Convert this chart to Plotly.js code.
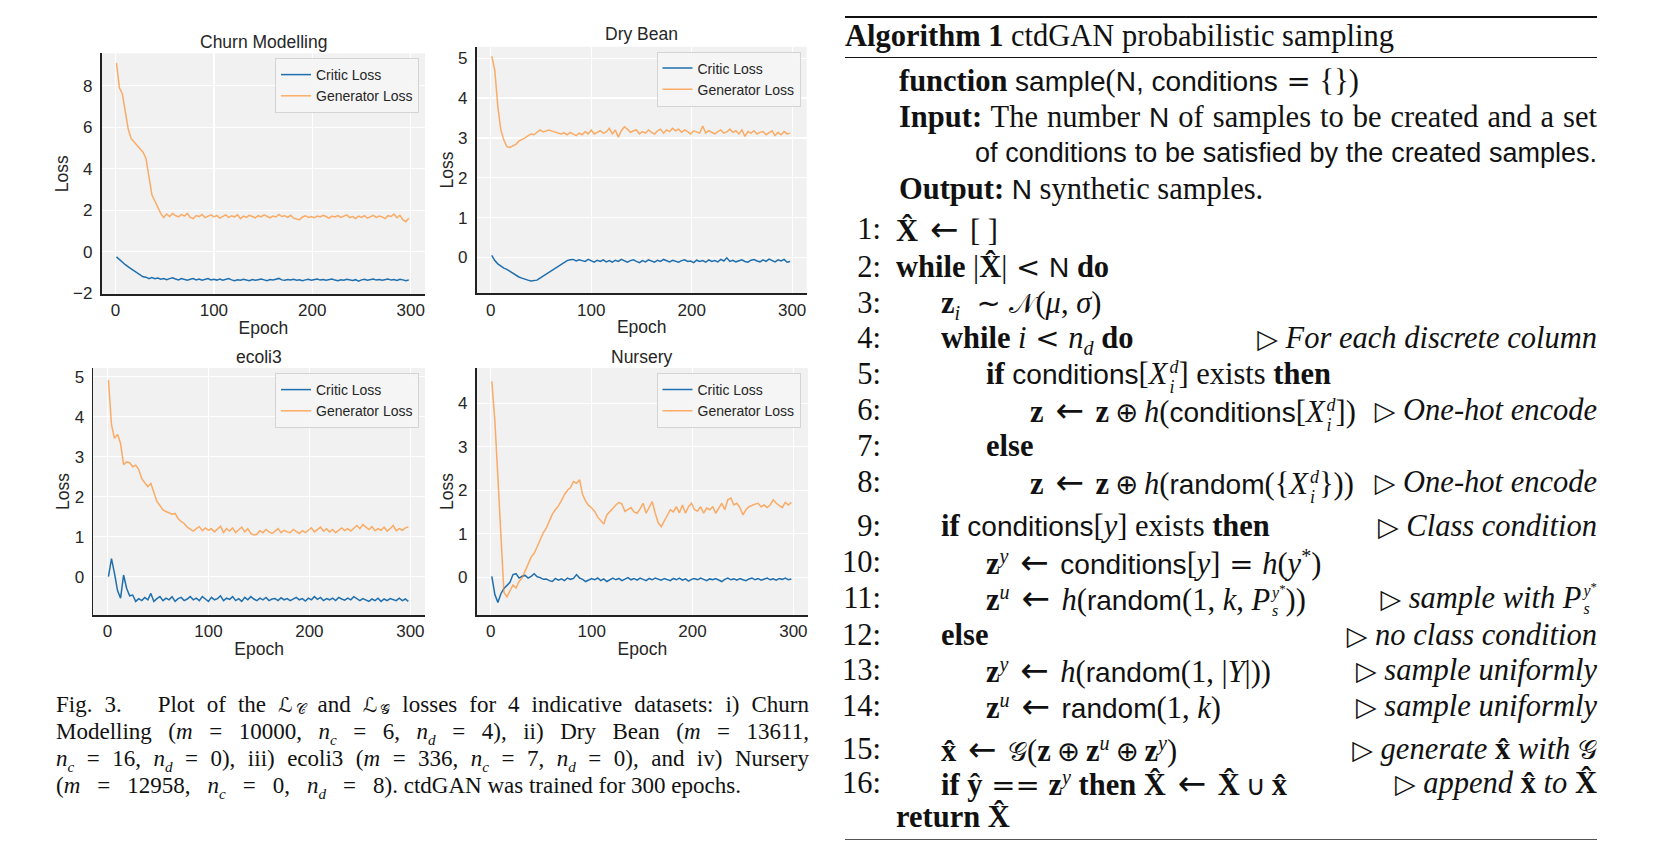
<!DOCTYPE html>
<html>
<head>
<meta charset="utf-8">
<script src="https://cdn.plot.ly/plotly-3.0.1.min.js"></script>
<style>
  html, body { margin: 0; padding: 0; background: #ffffff; }
  body { width: 1653px; height: 868px; overflow: hidden; position: relative; }
  #chart { position: absolute; left: 0; top: 0; width: 1653px; height: 868px; }
  .cap { position: absolute; left: 56px; width: 753px; height: 26px; font-family: 'Liberation Serif', 'Times New Roman', serif;
         font-size: 23px; line-height: 26px; color: #111; white-space: nowrap; text-align: justify; text-align-last: justify; }
  .cap.last { text-align: left; text-align-last: left; }
  .mj { display: inline-block; text-align: justify; text-align-last: justify; white-space: nowrap; }
  .al { position: absolute; white-space: nowrap; font-family: 'Liberation Serif', 'Times New Roman', serif;
        font-size: 30.5px; line-height: 34px; height: 34px; color: #111; }
  .num { left: 820px; width: 61px; text-align: right; }
  .cm { right: 56px; text-align: right; }
  .just { text-align: justify; text-align-last: justify; }
  .sf { font-family: 'Liberation Sans', Arial, sans-serif; font-size: 0.92em; }
  .ms { font-family: 'DejaVu Sans', 'DejaVu Serif', sans-serif; font-size: 0.88em; }
  .op { font-family: 'DejaVu Sans', sans-serif; font-size: 0.95em; margin: 0 0.3em; }
  .arr { font-family: 'DejaVu Sans', sans-serif; font-size: 1.12em; margin: 0 0.34em; }
  .bop { font-family: 'DejaVu Sans', sans-serif; font-size: 0.9em; margin: 0 0.22em; }
  sub, sup { font-size: 0.66em; line-height: 0; }
  sub.ms { margin-left: 3px; font-size: 0.6em; vertical-align: -0.12em; }
  .ss { display: inline-block; vertical-align: -9px; font-size: 18px; line-height: 20px; text-align: left; margin-left: 2px; }
  .ss > span { display: block; height: 20px; }
  .ss.sm { vertical-align: -6px; font-size: 16px; line-height: 18px; }
  .ss.sm > span { height: 18px; }
  .st { position: relative; top: -0.4em; font-size: 0.8em; }
  .rule { position: absolute; left: 845px; width: 752px; background: #111; }
</style>
</head>
<body>
<div id="chart"></div>

<!-- Figure caption -->
<div class="cap" style="top:692px">Fig. 3.&nbsp;&nbsp; Plot of the <span class="ms">ℒ</span><sub class="ms">𝒞</sub> and <span class="ms">ℒ</span><sub class="ms">𝒢</sub> losses for 4 indicative datasets: i) Churn</div>
<div class="cap" style="top:718.5px">Modelling (<i>m</i> = 10000, <i>n<sub>c</sub></i> = 6, <i>n<sub>d</sub></i> = 4), ii) Dry Bean (<i>m</i> = 13611,</div>
<div class="cap" style="top:746px"><i>n<sub>c</sub></i> = 16, <i>n<sub>d</sub></i> = 0), iii) ecoli3 (<i>m</i> = 336, <i>n<sub>c</sub></i> = 7, <i>n<sub>d</sub></i> = 0), and iv) Nursery</div>
<div class="cap last" style="top:772.5px"><span class="mj" style="width:342px">(<i>m</i> = 12958, <i>n<sub>c</sub></i> = 0, <i>n<sub>d</sub></i> = 8).</span> ctdGAN was trained for 300 epochs.</div>

<!-- Algorithm box -->
<div class="rule" style="top:16px;height:2px"></div>
<div class="al" style="left:845px;top:19px"><b>Algorithm 1</b> ctdGAN probabilistic sampling</div>
<div class="rule" style="top:57px;height:1.3px"></div>
<div class="al" style="left:899px;top:64px"><b>function</b> <span class="sf">sample</span>(<span class="sf">N, conditions</span><span class="op">=</span>{})</div>
<div class="al just" style="left:899px;width:698px;top:100px"><b>Input:</b> The number <span class="sf">N</span> of samples to be created and a set</div>
<div class="al just sf" style="left:975px;width:622px;top:136px;font-size:27px">of conditions to be satisfied by the created samples.</div>
<div class="al" style="left:899px;top:172px"><b>Output:</b> <span class="sf">N</span> synthetic samples.</div>

<div class="al num" style="top:212px">1:</div>
<div class="al" style="left:896px;top:212px"><b>X̂</b><span class="arr">←</span>[ ]</div>
<div class="al num" style="top:250px">2:</div>
<div class="al" style="left:896px;top:250px"><b>while</b> |<b>X̂</b>|<span class="op">&lt;</span><span class="sf">N</span> <b>do</b></div>
<div class="al num" style="top:286px">3:</div>
<div class="al" style="left:941px;top:286px"><b>z</b><sub><i>i</i></sub>&nbsp;<span class="op">∼</span><span class="ms">𝒩</span>(<i>μ</i>, <i>σ</i>)</div>
<div class="al num" style="top:321px">4:</div>
<div class="al" style="left:941px;top:321px"><b>while</b> <i>i</i><span class="op">&lt;</span><i>n<sub>d</sub></i> <b>do</b></div>
<div class="al cm" style="top:321px"><span class="ms">▷</span> <i>For each discrete column</i></div>
<div class="al num" style="top:357px">5:</div>
<div class="al" style="left:986px;top:357px"><b>if</b> <span class="sf">conditions</span>[<i>X</i><span class="ss"><span><i>d</i></span><span><i>i</i></span></span>] exists <b>then</b></div>
<div class="al num" style="top:393px">6:</div>
<div class="al" style="left:1030px;top:393px"><b>z</b><span class="arr">←</span><b>z</b><span class="bop">⊕</span><i>h</i>(<span class="sf">conditions</span>[<i>X</i><span class="ss"><span><i>d</i></span><span><i>i</i></span></span>])</div>
<div class="al cm" style="top:393px"><span class="ms">▷</span> <i>One-hot encode</i></div>
<div class="al num" style="top:429px">7:</div>
<div class="al" style="left:986px;top:429px"><b>else</b></div>
<div class="al num" style="top:465px">8:</div>
<div class="al" style="left:1030px;top:465px"><b>z</b><span class="arr">←</span><b>z</b><span class="bop">⊕</span><i>h</i>(<span class="sf">random</span>({<i>X</i><span class="ss"><span><i>d</i></span><span><i>i</i></span></span>}))</div>
<div class="al cm" style="top:465px"><span class="ms">▷</span> <i>One-hot encode</i></div>
<div class="al num" style="top:509px">9:</div>
<div class="al" style="left:941px;top:509px"><b>if</b> <span class="sf">conditions</span>[<i>y</i>] exists <b>then</b></div>
<div class="al cm" style="top:509px"><span class="ms">▷</span> <i>Class condition</i></div>
<div class="al num" style="top:545px">10:</div>
<div class="al" style="left:986px;top:545px"><b>z</b><sup><i>y</i></sup><span class="arr">←</span><span class="sf">conditions</span>[<i>y</i>]<span class="op">=</span><i>h</i>(<i>y</i><sup>*</sup>)</div>
<div class="al num" style="top:581px">11:</div>
<div class="al" style="left:986px;top:581px"><b>z</b><sup><i>u</i></sup><span class="arr">←</span><i>h</i>(<span class="sf">random</span>(1, <i>k</i>, <i>P</i><span class="ss sm"><span><i>y</i><span class="st">*</span></span><span><i>s</i></span></span>))</div>
<div class="al cm" style="top:581px"><span class="ms">▷</span> <i>sample with P</i><span class="ss sm"><span><i>y</i><span class="st">*</span></span><span><i>s</i></span></span></div>
<div class="al num" style="top:618px">12:</div>
<div class="al" style="left:941px;top:618px"><b>else</b></div>
<div class="al cm" style="top:618px"><span class="ms">▷</span> <i>no class condition</i></div>
<div class="al num" style="top:653px">13:</div>
<div class="al" style="left:986px;top:653px"><b>z</b><sup><i>y</i></sup><span class="arr">←</span><i>h</i>(<span class="sf">random</span>(1, |<i>Y</i>|))</div>
<div class="al cm" style="top:653px"><span class="ms">▷</span> <i>sample uniformly</i></div>
<div class="al num" style="top:689px">14:</div>
<div class="al" style="left:986px;top:689px"><b>z</b><sup><i>u</i></sup><span class="arr">←</span><span class="sf">random</span>(1, <i>k</i>)</div>
<div class="al cm" style="top:689px"><span class="ms">▷</span> <i>sample uniformly</i></div>
<div class="al num" style="top:732px">15:</div>
<div class="al" style="left:941px;top:732px"><b>x̂</b><span class="arr">←</span><span class="ms">𝒢</span>(<b>z</b><span class="bop">⊕</span><b>z</b><sup><i>u</i></sup><span class="bop">⊕</span><b>z</b><sup><i>y</i></sup>)</div>
<div class="al cm" style="top:732px"><span class="ms">▷</span> <i>generate</i> <b>x̂</b> <i>with</i> <span class="ms">𝒢</span></div>
<div class="al num" style="top:766px">16:</div>
<div class="al" style="left:941px;top:766px"><b>if ŷ</b><span class="op">==</span><b>z</b><sup><i>y</i></sup> <b>then X̂</b><span class="arr">←</span><b>X̂</b><span class="bop">∪</span><b>x̂</b></div>
<div class="al cm" style="top:766px"><span class="ms">▷</span> <i>append</i> <b>x̂</b> <i>to</i> <b>X̂</b></div>
<div class="al" style="left:896px;top:800px"><b>return X̂</b></div>
<div class="rule" style="top:838.5px;height:1px;background:#555"></div>

<script>
// ---------------- Data (sampled every 3 epochs: 1, 4, 7, ... 298) ----------------
const churnCritic = [
  -0.24, -0.38, -0.5, -0.62, -0.72, -0.82, -0.93, -1.03, -1.12, -1.2,
  -1.22, -1.29, -1.24, -1.29, -1.26, -1.32, -1.29, -1.34, -1.29, -1.25,
  -1.31, -1.35, -1.29, -1.33, -1.37, -1.32, -1.29, -1.35, -1.31, -1.37,
  -1.33, -1.29, -1.35, -1.32, -1.36, -1.31, -1.37, -1.33, -1.29, -1.35,
  -1.39, -1.34, -1.37, -1.32, -1.35, -1.39, -1.33, -1.37, -1.34, -1.31,
  -1.35, -1.39, -1.33, -1.36, -1.32, -1.28, -1.35, -1.37, -1.33, -1.36,
  -1.32, -1.37, -1.34, -1.39, -1.35, -1.32, -1.37, -1.34, -1.31, -1.36,
  -1.33, -1.37, -1.34, -1.31, -1.36, -1.39, -1.34, -1.37, -1.32, -1.35,
  -1.38, -1.34, -1.41, -1.35, -1.32, -1.37, -1.34, -1.31, -1.36, -1.33,
  -1.37, -1.34, -1.31, -1.36, -1.33, -1.38, -1.32, -1.35, -1.39, -1.36
];
const churnGen = [
  9.1, 7.9, 7.6, 6.8, 5.9, 5.45, 5.3, 5.1, 4.95, 4.8,
  4.5, 3.5, 2.75, 2.45, 2.15, 1.85, 1.65, 1.82, 1.7, 1.85,
  1.75, 1.68, 1.8, 1.72, 1.85, 1.66, 1.6, 1.75, 1.7, 1.8,
  1.65, 1.72, 1.78, 1.68, 1.75, 1.62, 1.7, 1.78, 1.66, 1.74,
  1.68, 1.78, 1.6, 1.72, 1.66, 1.76, 1.7, 1.64, 1.74, 1.68,
  1.78, 1.7, 1.64, 1.72, 1.68, 1.8, 1.7, 1.74, 1.66, 1.76,
  1.62, 1.58, 1.55, 1.68, 1.74, 1.66, 1.7, 1.64, 1.72, 1.68,
  1.76, 1.7, 1.62, 1.72, 1.68, 1.75, 1.66, 1.72, 1.78, 1.65,
  1.7, 1.6, 1.72, 1.66, 1.74, 1.62, 1.7, 1.76, 1.66, 1.72,
  1.68, 1.6, 1.74, 1.7, 1.82, 1.64, 1.76, 1.55, 1.45, 1.62
];
const beanCritic = [
  0.05, -0.08, -0.16, -0.22, -0.27, -0.3, -0.35, -0.4, -0.45, -0.49,
  -0.52, -0.55, -0.57, -0.59, -0.58, -0.57, -0.52, -0.47, -0.42, -0.38,
  -0.33, -0.29, -0.23, -0.17, -0.12, -0.08, -0.06, -0.05, -0.09, -0.06,
  -0.08, -0.1, -0.05, -0.09, -0.12, -0.07, -0.1, -0.06, -0.11, -0.08,
  -0.12, -0.07, -0.1, -0.05, -0.09, -0.12, -0.08, -0.06, -0.1, -0.13,
  -0.08, -0.11, -0.06, -0.09, -0.12, -0.07, -0.1, -0.05, -0.08, -0.11,
  -0.07, -0.1, -0.12, -0.08, -0.06, -0.1, -0.09, -0.13, -0.07, -0.1,
  -0.08, -0.12, -0.06, -0.1, -0.08, -0.11, -0.05, -0.09, -0.01, -0.1,
  -0.07, -0.11, -0.08, -0.06, -0.1, -0.12, -0.07, -0.05, -0.09, -0.11,
  -0.06, -0.1, -0.04, -0.08, -0.11, -0.06, -0.09, -0.05, -0.12, -0.1
];
const beanGen = [
  5.05, 4.7, 3.8, 3.2, 2.95, 2.78, 2.76, 2.8, 2.84, 2.92,
  2.95, 3.0, 3.05, 3.1, 3.08, 3.14, 3.2, 3.15, 3.18, 3.2,
  3.17, 3.15, 3.12, 3.1, 3.13, 3.08, 3.14, 3.1, 3.06, 3.12,
  3.08, 3.16, 3.1, 3.2, 3.1, 3.14, 3.18, 3.12, 3.15, 3.24,
  3.1, 3.2, 3.02, 3.18, 3.28, 3.22, 3.14, 3.18, 3.2, 3.1,
  3.16, 3.12, 3.2, 3.14, 3.1, 3.18, 3.22, 3.12, 3.2, 3.16,
  3.24, 3.18, 3.22, 3.14, 3.2, 3.16, 3.1, 3.18, 3.14, 3.12,
  3.3, 3.12, 3.18, 3.14, 3.1, 3.16, 3.2, 3.12, 3.15, 3.22,
  3.14, 3.18, 3.1, 3.2, 3.04, 3.16, 3.12, 3.18, 3.1, 3.14,
  3.16, 3.08, 3.12, 3.18, 3.06, 3.14, 3.08, 3.16, 3.1, 3.12
];
const ecoliCritic = [
  0.0, 0.45, 0.08, -0.35, -0.54, 0.04, -0.29, -0.48, -0.46, -0.62,
  -0.55, -0.6, -0.52, -0.58, -0.42, -0.62, -0.55, -0.5, -0.6, -0.54,
  -0.58, -0.5, -0.62, -0.55, -0.52, -0.6, -0.56, -0.5, -0.58, -0.54,
  -0.6, -0.5, -0.56, -0.62, -0.52, -0.58, -0.55, -0.48, -0.6, -0.54,
  -0.57, -0.5, -0.6, -0.55, -0.62, -0.52, -0.58, -0.5, -0.56, -0.6,
  -0.54, -0.58, -0.52, -0.6, -0.56, -0.55, -0.6, -0.53, -0.58, -0.55,
  -0.6, -0.56, -0.52, -0.58, -0.55, -0.61, -0.54, -0.58, -0.5, -0.57,
  -0.52, -0.6, -0.55, -0.58, -0.54, -0.6, -0.52, -0.56, -0.59, -0.54,
  -0.58, -0.5, -0.56, -0.6, -0.55, -0.58, -0.62, -0.56, -0.6, -0.54,
  -0.62, -0.56, -0.6, -0.55, -0.58, -0.6, -0.54, -0.6, -0.56, -0.62
];
const ecoliGen = [
  4.92, 3.8, 3.46, 3.56, 3.33, 2.8, 2.87, 2.85, 2.75, 2.79,
  2.68, 2.45, 2.35, 2.25, 2.33, 2.1, 1.88, 1.78, 1.67, 1.63,
  1.6, 1.56, 1.58, 1.45, 1.38, 1.33, 1.24, 1.2, 1.14, 1.2,
  1.25, 1.15, 1.22, 1.16, 1.2, 1.12, 1.18, 1.26, 1.1, 1.2,
  1.14, 1.22, 1.1, 1.17, 1.24, 1.12, 1.2, 1.08, 1.04, 1.06,
  1.15, 1.1, 1.18, 1.12, 1.08, 1.14, 1.2, 1.1, 1.16, 1.12,
  1.1, 1.18, 1.12, 1.08, 1.15, 1.1, 1.16, 1.22, 1.12, 1.18,
  1.24, 1.14, 1.2, 1.12, 1.18, 1.1, 1.16, 1.22, 1.15, 1.2,
  1.14, 1.22, 1.28, 1.2, 1.3, 1.24, 1.18, 1.25, 1.15, 1.2,
  1.16, 1.24, 1.14, 1.2, 1.28, 1.15, 1.2, 1.16, 1.22, 1.24
];
const nurseryCritic = [
  0.02, -0.4, -0.58, -0.38, -0.26, -0.2, -0.12, 0.06, 0.08, -0.02,
  0.02, 0.04, -0.02, 0.02, 0.08, 0.01, -0.01, -0.05, -0.04, -0.08,
  -0.1, -0.03, -0.07, -0.04, -0.08, -0.02, -0.05, -0.03, 0.06, -0.02,
  -0.05, -0.1, -0.07, -0.03, -0.06, -0.02, -0.08, -0.04, -0.1, -0.05,
  -0.02, -0.06, -0.03, -0.08, -0.04, -0.01, -0.06, -0.03, -0.07, -0.02,
  -0.05, -0.08, -0.03, -0.06, -0.02, -0.04, -0.07, -0.03, -0.05, -0.08,
  -0.03, -0.06, -0.02, -0.07, -0.04, -0.09, -0.05, -0.03, -0.06, -0.02,
  -0.05, -0.08, -0.04, -0.06, -0.03, -0.07, -0.1, -0.05, -0.02, -0.06,
  -0.04, -0.07, -0.03, -0.06, -0.08, -0.04, -0.02, -0.06, -0.03, -0.07,
  -0.05, -0.02, -0.06, -0.04, -0.07, -0.03, -0.05, -0.02, -0.06, -0.04
];
const nurseryGen = [
  4.5, 3.6, 2.3, 1.0, -0.35, -0.45, -0.33, -0.18, -0.25, -0.1,
  -0.02, 0.16, 0.3, 0.46, 0.55, 0.7, 0.86, 1.02, 1.13, 1.3,
  1.45, 1.55, 1.64, 1.76, 1.9, 2.0, 2.06, 2.2, 2.16, 2.24,
  1.9, 1.75, 1.65, 1.59, 1.51, 1.38, 1.3, 1.22, 1.43, 1.51,
  1.58, 1.66, 1.72, 1.68, 1.51, 1.56, 1.6, 1.5, 1.47, 1.57,
  1.7, 1.47, 1.62, 1.74, 1.47, 1.25, 1.16, 1.3, 1.43, 1.55,
  1.5, 1.62, 1.48, 1.66, 1.47, 1.62, 1.7, 1.55, 1.52, 1.62,
  1.47, 1.59, 1.55, 1.62, 1.47, 1.6, 1.7, 1.55, 1.78, 1.82,
  1.66, 1.7, 1.6, 1.43, 1.55, 1.62, 1.66, 1.68, 1.7, 1.62,
  1.66, 1.6, 1.66, 1.78, 1.7, 1.64, 1.6, 1.72, 1.66, 1.72
];

const subplotTitles = ['Churn Modelling', 'Dry Bean', 'ecoli3', 'Nursery'];
const seriesNames = ['Critic Loss', 'Generator Loss'];
const criticSeries = [churnCritic, beanCritic, ecoliCritic, nurseryCritic];
const generatorSeries = [churnGen, beanGen, ecoliGen, nurseryGen];
const xTicks = [0, 100, 200, 300];
const yTicks = [[-2, 0, 2, 4, 6, 8], [0, 1, 2, 3, 4, 5], [0, 1, 2, 3, 4, 5], [0, 1, 2, 3, 4]];
const xLabel = 'Epoch';
const yLabel = 'Loss';

// ---------------- Layout geometry (page pixels) ----------------
const W = 1653, H = 868;
const px = v => v / W;
const py = v => 1 - v / H;
const boxes = [
  { x: [101.7, 425], y: [53.3, 294], yr: [-2.03, 9.56], title: [263.4, 42], leg: [419, 58] },
  { x: [476.7, 806.7], y: [46.7, 293.3], yr: [-0.9, 5.29], title: [641.7, 34.5], leg: [800.5, 51.5] },
  { x: [93.3, 425], y: [368, 615], yr: [-0.96, 5.22], title: [259.2, 357], leg: [419, 373] },
  { x: [476.7, 808], y: [368, 615], yr: [-0.87, 4.81], title: [642.3, 356.5], leg: [800.5, 373] }
];
const xRange = [-14, 314.5];

const FONT = 'Liberation Sans, Arial, Helvetica, sans-serif';
const TXT = '#262626';
const BLUE = '#1f6fae';
const ORANGE = 'rgba(255,127,14,0.62)';

const data = [];
const layout = {
  width: W, height: H,
  margin: { l: 0, r: 0, t: 0, b: 0 },
  paper_bgcolor: 'rgba(0,0,0,0)',
  plot_bgcolor: '#f1f1f1',
  font: { family: FONT, color: TXT, size: 15 },
  hovermode: false,
  annotations: []
};

boxes.forEach((b, i) => {
  const s = i === 0 ? '' : String(i + 1);
  data.push({
    x: criticSeries[i].map((_, k) => 1 + 3 * k), y: criticSeries[i], type: 'scatter', mode: 'lines',
    name: seriesNames[0], line: { color: BLUE, width: 1.5 }, xaxis: 'x' + s, yaxis: 'y' + s, legend: 'legend' + s
  });
  data.push({
    x: generatorSeries[i].map((_, k) => 1 + 3 * k), y: generatorSeries[i], type: 'scatter', mode: 'lines',
    name: seriesNames[1], line: { color: ORANGE, width: 1.5 }, xaxis: 'x' + s, yaxis: 'y' + s, legend: 'legend' + s
  });
  layout['xaxis' + s] = {
    domain: [px(b.x[0]), px(b.x[1])], range: xRange, anchor: 'y' + s,
    tickvals: xTicks, showgrid: true, gridcolor: '#ffffff', gridwidth: 1.2, zeroline: false,
    showline: true, linecolor: '#222222', linewidth: 1.8, ticks: '', ticklabelstandoff: 0,
    tickfont: { family: FONT, size: 17, color: TXT },
    title: { text: xLabel, font: { family: FONT, size: 17.5, color: TXT }, standoff: 2 }
  };
  layout['yaxis' + s] = {
    domain: [py(b.y[1]), py(b.y[0])], range: b.yr, anchor: 'x' + s,
    tickvals: yTicks[i], showgrid: true, gridcolor: '#ffffff', gridwidth: 1.2, zeroline: false,
    showline: true, linecolor: '#222222', linewidth: 1.8, ticks: '', ticklabelstandoff: 4,
    tickfont: { family: FONT, size: 17, color: TXT },
    title: { text: yLabel, font: { family: FONT, size: 17.5, color: TXT }, standoff: 0 }
  };
  layout['legend' + s] = {
    x: px(b.leg[0]), xanchor: 'right', y: py(b.leg[1]), yanchor: 'top',
    bgcolor: 'rgba(245,245,245,0.92)', bordercolor: '#d4d4d4', borderwidth: 1,
    font: { family: FONT, size: 14, color: TXT }, tracegroupgap: 0, itemwidth: 30
  };
  layout.annotations.push({
    text: subplotTitles[i], xref: 'paper', yref: 'paper', x: px(b.title[0]), y: py(b.title[1]),
    xanchor: 'center', yanchor: 'middle', showarrow: false,
    font: { family: FONT, size: 17.5, color: TXT }
  });
});

Plotly.newPlot('chart', data, layout, { displayModeBar: false, staticPlot: true });
</script>
</body>
</html>
